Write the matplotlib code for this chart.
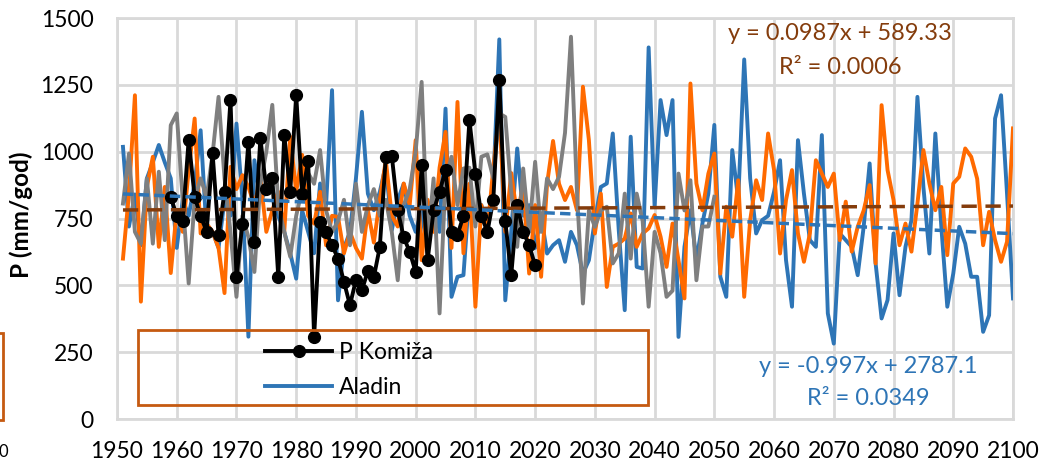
import numpy as np
import matplotlib
matplotlib.use("Agg")
import matplotlib.pyplot as plt
from matplotlib.lines import Line2D
from matplotlib.patches import Rectangle

# ---- data -------------------------------------------------------------
years_model = np.arange(1951, 2101)

aladin = [
    1018, 720, 840, 650, 900, 960, 1025, 960, 900, 640,
    820, 760, 880, 1080, 700, 700, 640, 820, 760, 1105,
    820, 308, 968, 820, 850, 870, 760, 700, 620, 525,
    780, 700, 620, 881, 800, 1230, 444, 640, 700, 900,
    1149, 843, 781, 850, 950, 706, 819, 880, 760, 700,
    780, 620, 860, 700, 1161, 457, 532, 538, 850, 760,
    800, 700, 880, 1420, 444, 700, 1012, 760, 800, 640,
    760, 619, 650, 669, 588, 700, 650, 544, 594, 744,
    868, 881, 1068, 706, 407, 1056, 569, 563, 1390, 794,
    1193, 1062, 1193, 307, 644, 781, 594, 731, 843, 1100,
    532, 457, 1006, 819, 1345, 900, 694, 744, 760, 850,
    968, 594, 420, 1043, 843, 669, 644, 1062, 395, 282,
    694, 669, 644, 538, 719, 956, 582, 376, 445, 694,
    463, 644, 744, 1205, 868, 619, 1068, 719, 420, 544,
    719, 656, 532, 532, 326, 388, 1124, 1211, 843, 451,
]

model_b = [
    600, 843, 1211, 439, 868, 981, 644, 868, 546, 780,
    700, 931, 1124, 694, 731, 700, 640, 471, 943, 860,
    912, 868, 800, 900, 700, 780, 850, 700, 1056, 850,
    988, 760, 731, 850, 650, 760, 756, 620, 700, 640,
    600, 780, 660, 820, 968, 760, 720, 881, 800, 1043,
    594, 820, 700, 940, 1074, 640, 1186, 620, 880, 420,
    800, 700, 940, 1150, 700, 920, 760, 880, 544, 800,
    532, 880, 1040, 880, 819, 868, 781, 1243, 1043, 694,
    843, 494, 644, 656, 675, 769, 644, 694, 713, 763,
    682, 569, 731, 594, 451, 1255, 881, 781, 918, 993,
    544, 794, 682, 893, 457, 744, 893, 819, 1068, 931,
    619, 819, 931, 694, 588, 694, 968, 918, 868, 918,
    669, 813, 626, 719, 780, 875, 582, 1174, 931, 819,
    650, 731, 626, 806, 1006, 881, 781, 868, 613, 881,
    906, 1012, 981, 899, 650, 775, 669, 588, 663, 1087,
]

years_gray = np.arange(1951, 2051)
model_c = [
    806, 993, 700, 656, 900, 656, 925, 669, 1099, 1143,
    819, 507, 820, 900, 830, 990, 1205, 900, 700, 457,
    760, 680, 550, 880, 1000, 1175, 800, 700, 607, 760,
    860, 920, 880, 1006, 780, 700, 740, 820, 650, 880,
    700, 800, 860, 760, 820, 700, 519, 800, 860, 1000,
    1261, 650, 900, 395, 900, 981, 800, 937, 940, 720,
    981, 990, 900, 1143, 1130, 850, 644, 937, 700, 962,
    700, 900, 860, 906, 1070, 1430, 850, 432, 780, 719,
    780, 794, 582, 620, 843, 600, 843, 740, 420, 700,
    620, 457, 480, 918, 780, 893, 519, 720, 720, 831,
]

years_obs = np.arange(1959, 2021)
komiza = [
    830, 760, 740, 1045, 830, 760, 700, 995, 688, 850,
    1193, 531, 731, 1037, 663, 1050, 860, 900, 531, 1062,
    850, 1212, 840, 965, 307, 737, 700, 650, 600, 513,
    426, 520, 482, 554, 531, 644, 981, 985, 780, 680,
    625, 550, 950, 594, 780, 850, 931, 700, 688, 760,
    1118, 918, 760, 700, 819, 1268, 740, 538, 800, 700,
    650, 575,
]

# linear trends as printed on the chart
trend_b = (0.0987, 589.33)
trend_a = (-0.997, 2787.1)
trend_years = np.array([1951, 2100])

x_ticks = np.arange(1950, 2101, 10)
y_ticks = np.arange(0, 1501, 250)

# ---- style ------------------------------------------------------------
BLUE = "#2E75B6"
ORANGE = "#FF6A00"
GRAY = "#7F7F7F"
BROWN = "#843C0C"
BOX = "#C55A11"
GRID = "#D9D9D9"

plt.rcParams["font.family"] = ["Lato", "DejaVu Sans"]

W, H = 1039, 465
fig = plt.figure(figsize=(W / 100, H / 100), dpi=100)
ax_l, ax_r, ax_t, ax_b = 117, 1013, 18, 419
ax = fig.add_axes([ax_l / W, 1 - ax_b / H, (ax_r - ax_l) / W, (ax_b - ax_t) / H])

lw = 2.8
ms = 8.5
ax.plot(years_model, aladin, color=BLUE, lw=lw, zorder=3, label="Aladin")
ax.plot(years_model, model_b, color=ORANGE, lw=lw, zorder=4)
ax.plot(years_gray, model_c, color=GRAY, lw=lw, zorder=5)
ax.plot(years_obs, komiza, color="black", lw=lw, marker="o", ms=ms,
        zorder=6, label="P Komiža")

tb = trend_b[0] * trend_years + trend_b[1]
ta = trend_a[0] * trend_years + trend_a[1]
ax.plot(trend_years, tb, color=BROWN, lw=2.5, dashes=(4.4, 2.5), zorder=7)
ax.plot(trend_years, ta, color=BLUE, lw=2.5, dashes=(3.0, 1.5), zorder=7)

ax.set_xlim(1950, 2100)
ax.set_ylim(0, 1500)
ax.set_xticks(x_ticks)
ax.set_yticks(y_ticks)
ax.grid(True, color=GRID, lw=2)
ax.set_axisbelow(True)
for s in ax.spines.values():
    s.set_color(GRID)
    s.set_linewidth(2)
ax.tick_params(length=0, labelsize=16.5, colors="black")
ax.tick_params(axis="x", pad=16)
ax.tick_params(axis="y", pad=17)
ax.set_ylabel("P (mm/god)", fontsize=17.5, fontweight="bold")
ax.yaxis.set_label_coords(-0.094, 0.51)


def fig_text(x, y, s, **kw):
    fig.text(x / W, 1 - y / H, s, **kw)


# equations of the trend lines
eq = dict(fontsize=17, ha="center", va="center", zorder=10)
fig_text(840, 34, "y = 0.0987x + 589.33", color=BROWN, **eq)
fig_text(840, 68, "R² = 0.0006", color=BROWN, **eq)
fig_text(868, 366, "y = -0.997x + 2787.1", color=BLUE, **eq)
fig_text(868, 398, "R² = 0.0349", color=BLUE, **eq)

# legend box and entries
bx0, bx1, by0, by1 = 138, 648, 330, 405
ax.add_patch(Rectangle(((bx0 - ax_l) / (ax_r - ax_l), (ax_b - by1) / (ax_b - ax_t)),
                       (bx1 - bx0) / (ax_r - ax_l), (by1 - by0) / (ax_b - ax_t),
                       transform=ax.transAxes, fill=False,
                       edgecolor=BOX, lw=2, zorder=8))
handles = [Line2D([], [], color="black", lw=lw, marker="o", ms=ms),
           Line2D([], [], color=BLUE, lw=lw)]
leg = ax.legend(handles, ["P Komiža", "Aladin"], loc="center left",
                bbox_to_anchor=((254 - ax_l) / (ax_r - ax_l), (ax_b - 370) / (ax_b - ax_t)),
                frameon=False, fontsize=16.5, handlelength=2.9,
                handletextpad=0.3, labelspacing=0.6, borderpad=0)
leg.set_zorder(9)

# neighbouring panel edge on the left
fig.patches.append(Rectangle((-20 / W, 1 - 420 / H), 23 / W, 87 / H,
                             transform=fig.transFigure, fill=False,
                             edgecolor=BOX, lw=2, figure=fig))
fig_text(3, 452, "0", fontsize=12, ha="center", va="center")

fig.savefig("out.png", dpi=100)
